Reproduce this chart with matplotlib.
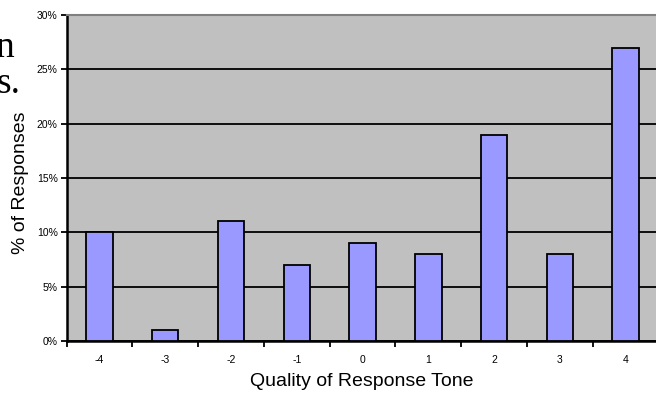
import matplotlib
matplotlib.use("Agg")
from matplotlib import pyplot as plt
from matplotlib.ticker import FixedLocator, PercentFormatter

# response tone scores and share of responses (%)
tones = ["-4", "-3", "-2", "-1", "0", "1", "2", "3", "4"]
shares = [10, 1, 11, 7, 9, 8, 19, 8, 27]
y_ticks = [0, 5, 10, 15, 20, 25, 30]

plt.rcParams["font.family"] = "Liberation Sans"

W, H = 656, 393
fig = plt.figure(figsize=(W / 100, H / 100), dpi=100)

# the plot area runs a little past the right edge of the picture
left, right, top, bottom = 66.7, 658.5, 15, 341
ax = fig.add_axes([left / W, (H - bottom) / H, (right - left) / W, (bottom - top) / H])
ax.set_facecolor("#C0C0C0")

pos = list(range(len(tones)))
ax.bar(pos, shares, width=0.4, color="#9999FF", edgecolor="black", linewidth=1.3, zorder=3)

ax.set_xlim(-0.5, len(tones) - 0.5)
ax.set_ylim(0, 30)

# gridlines
ax.yaxis.set_major_locator(FixedLocator(y_ticks))
ax.yaxis.set_major_formatter(PercentFormatter(decimals=0))
ax.grid(axis="y", color="black", linewidth=1.3, zorder=1)
ax.set_axisbelow(True)

# category labels in the middle, tick marks on the boundaries
ax.set_xticks(pos)
ax.set_xticklabels(tones)
ax.set_xticks([p - 0.5 for p in pos] + [len(tones) - 0.5], minor=True)
ax.tick_params(axis="x", which="major", length=0, pad=10, labelsize=7.5)
ax.tick_params(axis="x", which="minor", length=4, width=1.3, direction="out")
ax.tick_params(axis="y", length=4.5, width=1.3, direction="out", pad=2, labelsize=7.5)

for s in ["left", "bottom"]:
    ax.spines[s].set_linewidth(1.8)
    ax.spines[s].set_color("black")
ax.spines["top"].set_color("#808080")
ax.spines["top"].set_linewidth(1.5)
ax.spines["right"].set_visible(False)

fig.text(362 / W, 1 - 382 / H, "Quality of Response Tone", ha="center", va="center", fontsize=14)
fig.text(20.5 / W, 1 - 183 / H, "% of Responses", ha="center", va="center",
         rotation=90, fontsize=14)

# bits of slide text showing behind the chart
fig.text(14 / W, 1 - 57 / H, "n", ha="right", va="baseline", fontsize=27, family="Liberation Serif")
fig.text(21 / W, 1 - 93 / H, "s.", ha="right", va="baseline", fontsize=27, family="Liberation Serif")

fig.savefig("out.png", dpi=100)
